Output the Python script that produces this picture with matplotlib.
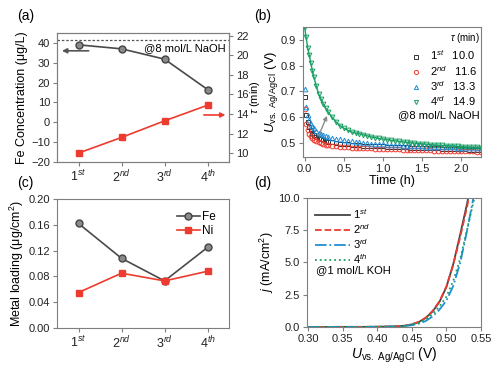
"""
Four-panel figure: Fe leaching, chronopotentiometry, metal loading, LSV.
"""

import matplotlib
matplotlib.use('Agg')
import matplotlib.pyplot as plt
from matplotlib.lines import Line2D

plt.rcParams['font.family'] = ['Liberation Sans', 'DejaVu Sans']
plt.rcParams['mathtext.fontset'] = 'custom'
plt.rcParams['mathtext.rm'] = 'Liberation Sans'
plt.rcParams['mathtext.it'] = 'Liberation Sans:italic'
plt.rcParams['font.size'] = 8
plt.rcParams['axes.edgecolor'] = '#7f7f7f'
plt.rcParams['xtick.color'] = '#7f7f7f'
plt.rcParams['ytick.color'] = '#7f7f7f'
plt.rcParams['xtick.labelcolor'] = '#222222'
plt.rcParams['ytick.labelcolor'] = '#222222'

GRAY = '#4a4a4a'
RED = '#ee3b2f'
BLUE = '#1f8ed6'
GREEN = '#1a9f63'

cycles = ['1$^{st}$', '2$^{nd}$', '3$^{rd}$', '4$^{th}$']
cycle_x = [1, 2, 3, 4]

# (a) Fe concentration in electrolyte and transition time
fe_conc = [39.0, 37.0, 31.8, 16.5]
tau_min = [10.0, 11.6, 13.3, 14.9]

# (b) chronopotentiometry curves
time_h = [0.00, 0.02, 0.04, 0.06, 0.08, 0.10, 0.12, 0.15, 0.18, 0.21, 0.24,
          0.27, 0.30, 0.35, 0.40, 0.45, 0.50, 0.55, 0.60, 0.65, 0.70, 0.75,
          0.80, 0.85, 0.90, 0.95, 1.00, 1.05, 1.10, 1.15, 1.20, 1.25, 1.30,
          1.35, 1.40, 1.45, 1.50, 1.55, 1.60, 1.65, 1.70, 1.75, 1.80, 1.85,
          1.90, 1.95, 2.00, 2.05, 2.10, 2.15, 2.20, 2.25]
u_1st = [0.680, 0.610, 0.580, 0.560, 0.548, 0.538, 0.531, 0.524, 0.518, 0.514,
         0.510, 0.507, 0.505, 0.502, 0.499, 0.497, 0.495, 0.494, 0.492, 0.491,
         0.490, 0.489, 0.488, 0.487, 0.487, 0.486, 0.486, 0.485, 0.484, 0.484,
         0.483, 0.482, 0.482, 0.481, 0.481, 0.480, 0.480, 0.479, 0.479, 0.478,
         0.478, 0.477, 0.477, 0.476, 0.476, 0.476, 0.475, 0.475, 0.474, 0.474,
         0.474, 0.473]
u_2nd = [0.630, 0.575, 0.550, 0.535, 0.525, 0.518, 0.512, 0.506, 0.502, 0.498,
         0.495, 0.493, 0.491, 0.488, 0.486, 0.484, 0.483, 0.482, 0.481, 0.480,
         0.480, 0.479, 0.478, 0.478, 0.477, 0.477, 0.477, 0.476, 0.476, 0.475,
         0.475, 0.474, 0.474, 0.473, 0.473, 0.472, 0.472, 0.471, 0.471, 0.470,
         0.470, 0.470, 0.469, 0.469, 0.468, 0.468, 0.468, 0.467, 0.467, 0.467,
         0.466, 0.466]
u_3rd = [0.710, 0.640, 0.610, 0.590, 0.575, 0.565, 0.556, 0.547, 0.540, 0.535,
         0.530, 0.527, 0.524, 0.520, 0.516, 0.513, 0.510, 0.508, 0.506, 0.504,
         0.502, 0.500, 0.499, 0.497, 0.496, 0.495, 0.494, 0.493, 0.492, 0.491,
         0.490, 0.489, 0.489, 0.488, 0.487, 0.487, 0.486, 0.485, 0.485, 0.484,
         0.484, 0.483, 0.483, 0.482, 0.482, 0.481, 0.481, 0.481, 0.480, 0.480,
         0.480, 0.479]
u_4th = [0.950, 0.910, 0.870, 0.840, 0.810, 0.780, 0.755, 0.720, 0.690, 0.670,
         0.650, 0.635, 0.620, 0.600, 0.582, 0.567, 0.557, 0.549, 0.542, 0.538,
         0.535, 0.531, 0.527, 0.523, 0.520, 0.517, 0.515, 0.512, 0.510, 0.508,
         0.506, 0.504, 0.502, 0.500, 0.499, 0.497, 0.496, 0.495, 0.493, 0.492,
         0.491, 0.490, 0.489, 0.488, 0.487, 0.486, 0.485, 0.484, 0.483, 0.482,
         0.482, 0.481]
tau_labels = ['1$^{st}$', '2$^{nd}$', '3$^{rd}$', '4$^{rd}$']

# (c) metal loading
fe_load = [0.162, 0.108, 0.073, 0.125]
ni_load = [0.055, 0.085, 0.073, 0.088]

# (d) polarisation curves
u_lsv = [0.30, 0.32, 0.34, 0.36, 0.38, 0.40, 0.42, 0.43, 0.44, 0.45, 0.46,
         0.47, 0.48, 0.49, 0.50, 0.51, 0.52, 0.53, 0.54, 0.55]
j_1st = [0.00, 0.00, 0.01, 0.01, 0.01, 0.02, 0.04, 0.06, 0.10, 0.20, 0.38,
         0.70, 1.20, 1.95, 3.10, 4.90, 7.20, 9.60, 12.5, 15.5]
j_2nd = [0.00, 0.00, 0.01, 0.01, 0.01, 0.02, 0.04, 0.06, 0.10, 0.21, 0.40,
         0.72, 1.25, 2.00, 3.15, 4.85, 7.00, 9.35, 12.2, 15.2]
j_3rd = [0.00, 0.00, 0.01, 0.01, 0.01, 0.02, 0.03, 0.05, 0.08, 0.14, 0.26,
         0.46, 0.82, 1.35, 2.05, 3.20, 5.00, 7.50, 10.3, 13.2]
j_4th = [0.00, 0.00, 0.01, 0.01, 0.01, 0.02, 0.03, 0.05, 0.09, 0.17, 0.32,
         0.58, 1.00, 1.60, 2.35, 3.60, 5.30, 7.60, 9.90, 12.6]

fig = plt.figure(figsize=(4.98, 3.70), dpi=100)
ax_a = fig.add_axes([0.1145, 0.562, 0.3455, 0.349])
ax_b = fig.add_axes([0.6084, 0.5757, 0.3576, 0.3513])
ax_c = fig.add_axes([0.1145, 0.1135, 0.3455, 0.3487])
ax_d = fig.add_axes([0.6165, 0.1162, 0.3494, 0.3487])

for lbl, x, y in [('(a)', 0.035, 0.975), ('(b)', 0.51, 0.975),
                  ('(c)', 0.035, 0.525), ('(d)', 0.51, 0.525)]:
    fig.text(x, y, lbl, fontsize=10, va='top', ha='left')

# ---- (a)
ax = ax_a
ax.plot(cycle_x, fe_conc, '-o', color=GRAY, lw=1.2, ms=5,
        mfc='#8a8a8a', mec='#444444')
ax.set_xlim(0.5, 4.5)
ax.set_ylim(-20, 45)
ax.set_yticks([-20, -10, 0, 10, 20, 30, 40])
ax.set_xticks(cycle_x)
ax.set_xticklabels(cycles, fontsize=9)
ax.set_ylabel('Fe Concentration (μg/L)', fontsize=9, labelpad=2)
ax.axhline(41.2, color='#555555', ls=(0, (2, 1.5)), lw=0.9)
ax.text(4.43, 37.3, '@8 mol/L NaOH', ha='right', va='center', fontsize=8)
ax.annotate('', xy=(0.55, 36.0), xytext=(1.3, 36.0),
            arrowprops=dict(arrowstyle='-|>', color='#555555', lw=1.2,
                            mutation_scale=7))
axr = ax.twinx()
axr.plot(cycle_x, tau_min, '-s', color=RED, lw=1.2, ms=5)
axr.set_ylim(9.08, 22.3)
axr.set_yticks([10, 12, 14, 16, 18, 20, 22])
axr.set_ylabel(r'$\tau$ (min)', fontsize=8)
axr.yaxis.set_label_coords(1.108, 0.5)
axr.annotate('', xy=(4.48, 13.9), xytext=(3.85, 13.9),
             arrowprops=dict(arrowstyle='-|>', color=RED, lw=1.2,
                             mutation_scale=7))

# ---- (b)
ax = ax_b
styles = [(u_1st, '#333333', 's'), (u_2nd, RED, 'o'),
          (u_3rd, BLUE, '^'), (u_4th, GREEN, 'v')]
handles = []
for (vals, col, mk), lab, tv in zip(styles, tau_labels, tau_min):
    ax.plot(time_h, vals, ls='none', marker=mk, ms=3.4, mfc='none',
            mec=col, mew=0.7)
    handles.append(Line2D([], [], ls='none', marker=mk, ms=3, mfc='none',
                          mec=col, mew=0.7,
                          label=f'{lab}   {tv:.1f}'))
ax.plot(time_h, u_4th, '-', color=GREEN, lw=1.0)
ax.annotate('', xy=(0.3, 0.615), xytext=(0.17, 0.52),
            arrowprops=dict(arrowstyle='-|>', color='#8a8a8a', lw=1.0,
                            mutation_scale=6))
ax.set_xlim(-0.02, 2.25)
ax.set_ylim(0.445, 0.95)
ax.set_xticks([0.0, 0.5, 1.0, 1.5, 2.0])
ax.set_yticks([0.5, 0.6, 0.7, 0.8, 0.9])
ax.set_xlabel('Time (h)', fontsize=9, labelpad=1)
ax.set_ylabel(r'$U_{\mathrm{vs.\ Ag/AgCl}}$ (V)', fontsize=9.5)
ax.yaxis.set_label_coords(-0.128, 0.5)
ax.legend(handles=handles, loc='upper right', frameon=False,
          bbox_to_anchor=(1.02, 0.885), fontsize=8, handlelength=1.0,
          handletextpad=0.8, labelspacing=0.12, borderpad=0.1)
ax.text(0.91, 0.915, r'$\tau$ (min)', transform=ax.transAxes, fontsize=7,
        ha='center', va='center')
ax.text(0.99, 0.32, '@8 mol/L NaOH', transform=ax.transAxes, fontsize=8,
        ha='right', va='center')

# ---- (c)
ax = ax_c
ax.plot(cycle_x, fe_load, '-o', color=GRAY, lw=1.2, ms=5,
        mfc='#8a8a8a', mec='#444444', label='Fe')
ax.plot(cycle_x, ni_load, '-s', color=RED, lw=1.2, ms=5, label='Ni')
ax.set_xlim(0.5, 4.5)
ax.set_ylim(0, 0.20)
ax.set_yticks([0.00, 0.04, 0.08, 0.12, 0.16, 0.20])
ax.set_yticklabels(['0.00', '0.04', '0.08', '0.12', '0.16', '0.20'])
ax.set_xticks(cycle_x)
ax.set_xticklabels(cycles, fontsize=9)
ax.set_ylabel('Metal loading (μg/cm$^2$)', fontsize=9, labelpad=2)
ax.legend(loc='upper right', frameon=False, fontsize=8.5, handlelength=1.9,
          handletextpad=0.2, labelspacing=0.15, borderpad=0.2,
          bbox_to_anchor=(0.97, 0.97))

# ---- (d)
ax = ax_d
ax.plot(u_lsv, j_1st, '-', color='#444444', lw=1.3, label='1$^{st}$')
ax.plot(u_lsv, j_2nd, '--', color=RED, lw=1.3, label='2$^{nd}$')
ax.plot(u_lsv, j_3rd, '-.', color=BLUE, lw=1.3, label='3$^{rd}$')
ax.plot(u_lsv, j_4th, ':', color=GREEN, lw=1.3, label='4$^{th}$')
ax.set_xlim(0.2985, 0.55)
ax.set_ylim(0, 10)
ax.set_xticks([0.30, 0.35, 0.40, 0.45, 0.50, 0.55])
ax.set_yticks([0.0, 2.5, 5.0, 7.5, 10.0])
ax.set_xlabel(r'$U_{\mathrm{vs.\ Ag/AgCl}}$ (V)', fontsize=10, labelpad=1)
ax.set_ylabel(r'$j$ (mA/cm$^2$)', fontsize=9, labelpad=2)
ax.legend(loc='upper left', frameon=False, fontsize=8, handlelength=3.2,
          handletextpad=0.2, labelspacing=0.12, borderpad=0.2,
          bbox_to_anchor=(0.0, 0.99))
ax.text(0.05, 0.44, '@1 mol/L KOH', transform=ax.transAxes, fontsize=8,
        ha='left', va='center')

for a in [ax_a, axr, ax_b, ax_c, ax_d]:
    a.tick_params(length=3, width=0.8, pad=2)
    for s in a.spines.values():
        s.set_linewidth(0.8)

fig.savefig('out.png', dpi=100)
